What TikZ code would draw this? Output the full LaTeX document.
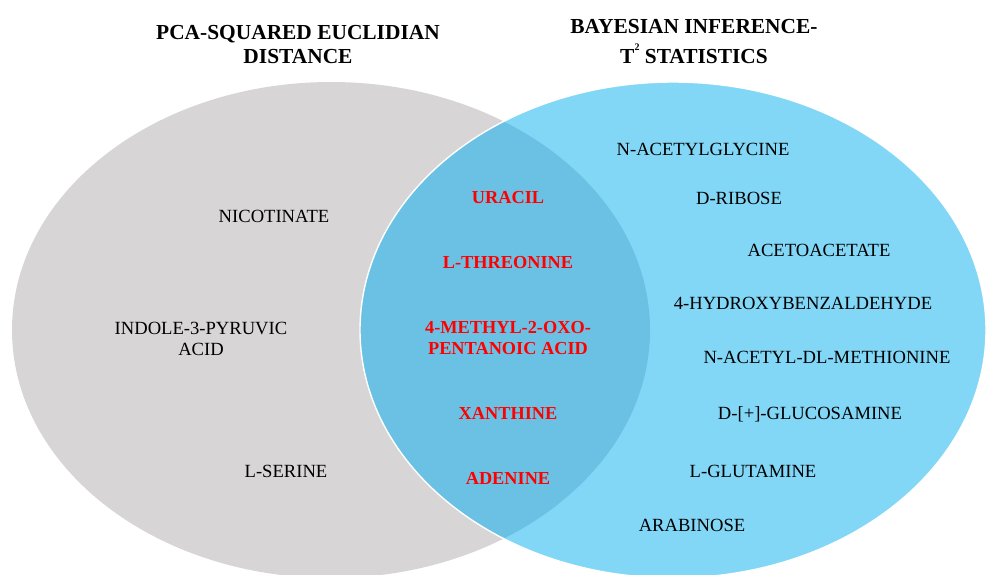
\documentclass[tikz,border=0pt]{standalone}
\usepackage{fontspec}
\setmainfont{Liberation Serif}
\newfontfamily\timesfont{Liberation Serif}
\usepackage{tikz}
\definecolor{pcagray}{RGB}{215,213,214}
\definecolor{bayesblue}{RGB}{130,215,247}
\definecolor{bothblue}{RGB}{107,193,227}
\definecolor{hitred}{RGB}{255,0,0}
\tikzset{
		set title/.style={font=\timesfont\fontsize{21.4}{24}\selectfont\bfseries, align=center, inner sep=0pt},
		metabolite/.style={font=\timesfont\fontsize{18.6}{21}\selectfont, align=center, inner sep=0pt},
		shared/.style={metabolite, text=hitred, font=\timesfont\fontsize{18.3}{21}\selectfont\bfseries}
	}
\newcommand{\tsq}{T\raisebox{0.62em}{\fontsize{10}{10}\selectfont 2}}

\begin{document}
\begin{tikzpicture}[x=1pt, y=-1pt]
				\useasboundingbox (0,0) rectangle (987,574);
				% the two sets
				\fill[pcagray]   (331,330) ellipse [x radius=319pt, y radius=248pt];
				\fill[bayesblue] (673,330) ellipse [x radius=313pt, y radius=248pt];
				\begin{scope}
					\clip (673,330) ellipse [x radius=313pt, y radius=248pt];
					\fill[bothblue] (331,330) ellipse [x radius=319pt, y radius=248pt];
				\end{scope}
				\draw[white, line width=1.4pt] (673,330) ellipse [x radius=313pt, y radius=248pt];

				% headings
				\node[set title] (pca)   at (298,45) {PCA-SQUARED EUCLIDIAN\\DISTANCE};
				\node[set title] (bayes) at (694,42) {BAYESIAN INFERENCE-\\[6pt]\tsq\ STATISTICS};

				% only PCA
				\node[metabolite] (nico)   at (274,216) {NICOTINATE};
				\node[metabolite] (indole) at (201,339) {INDOLE-3-PYRUVIC\\ACID};
				\node[metabolite] (ser)    at (286,471) {L-SERINE};

				% both methods
				\node[shared] (ura) at (508,198) {URACIL};
				\node[shared] (thr) at (508,263) {L-THREONINE};
				\node[shared] (mop) at (508,338) {4-METHYL-2-OXO-\\PENTANOIC ACID};
				\node[shared] (xan) at (508,413) {XANTHINE};
				\node[shared] (ade) at (508,478) {ADENINE};

				% only Bayesian
				\node[metabolite] (nag)  at (703,149) {N-ACETYLGLYCINE};
				\node[metabolite] (rib)  at (739,198) {D-RIBOSE};
				\node[metabolite] (aca)  at (819,250) {ACETOACETATE};
				\node[metabolite] (hba)  at (803,303) {4-HYDROXYBENZALDEHYDE};
				\node[metabolite] (nam)  at (827,357) {N-ACETYL-DL-METHIONINE};
				\node[metabolite] (glc)  at (810,414) {D-[+]-GLUCOSAMINE};
				\node[metabolite] (gln)  at (753,471) {L-GLUTAMINE};
				\node[metabolite] (ara)  at (692,525) {ARABINOSE};
			\end{tikzpicture}
\end{document}
